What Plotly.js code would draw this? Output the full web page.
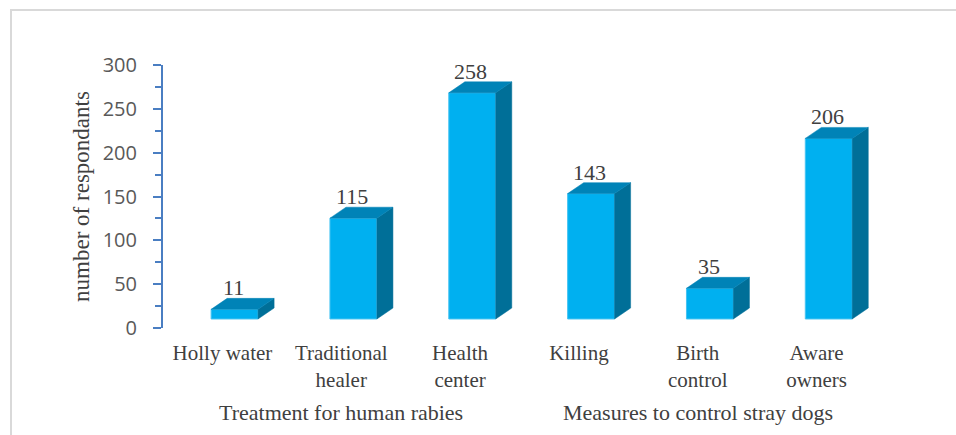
<!DOCTYPE html>
<html>
<head>
<meta charset="utf-8">
<script src="https://cdn.plot.ly/plotly-3.0.1.min.js"></script>
<style>
  html, body { margin: 0; padding: 0; background: #ffffff; }
  #chart { width: 956px; height: 435px; }
</style>
</head>
<body>
<div id="chart"></div>
<script>
// ---- data ----
const categories = ['Holly water', 'Traditional<br>healer', 'Health<br>center', 'Killing', 'Birth<br>control', 'Aware<br>owners'];
const values = [11, 115, 258, 143, 35, 206];
const groups = ['Treatment for human rabies', 'Measures to control stray dogs'];
const groupSizes = [3, 3];
const yTitle = 'number of respondants';

// ---- style constants ----
const barOffset = -0.095, barWidth = 0.395;   // front face, in category units
const depthX = 0.135, depthY = 12.5;          // 3D depth (x units, y units)
const floorShift = 10.3;                      // front face floor raised above axis zero
const cFront = '#00B0F0', cTop = '#0083B7', cSide = '#006F98';
const serif = 'Liberation Serif, Times New Roman, serif';

const xs = categories.map((_, i) => i);

// invisible trace so the visible value axis (y) gets its subplot
const axisHolder = {
  type: 'scatter', mode: 'markers', x: [xs[0]], y: [0], yaxis: 'y',
  marker: { opacity: 0 }, hoverinfo: 'skip', showlegend: false
};

// front faces
const front = {
  type: 'bar', x: xs, y: values, yaxis: 'y2',
  offset: barOffset, width: barWidth,
  marker: { color: cFront, line: { color: '#45C3F2', width: 1 } },
  hoverinfo: 'skip', showlegend: false
};

// top & side faces computed from the values
const topX = [], topY = [], sideX = [], sideY = [];
values.forEach((v, i) => {
  const x0 = i + barOffset, x1 = x0 + barWidth;
  topX.push(x0, x1, x1 + depthX, x0 + depthX, x0, null);
  topY.push(v, v, v + depthY, v + depthY, v, null);
  sideX.push(x1, x1 + depthX, x1 + depthX, x1, x1, null);
  sideY.push(0, depthY, v + depthY, v, 0, null);
});
const topFace = {
  type: 'scatter', mode: 'lines', x: topX, y: topY, yaxis: 'y2',
  fill: 'toself', fillcolor: cTop, line: { color: cTop, width: 0.5 },
  hoverinfo: 'skip', showlegend: false
};
const sideFace = {
  type: 'scatter', mode: 'lines', x: sideX, y: sideY, yaxis: 'y2',
  fill: 'toself', fillcolor: cSide, line: { color: cSide, width: 0.5 },
  hoverinfo: 'skip', showlegend: false
};

// annotations: value labels + group labels
const annotations = values.map((v, i) => ({
  x: i + barOffset + barWidth / 2 - 0.012, y: v + depthY, xref: 'x', yref: 'y2',
  text: String(v), showarrow: false, yanchor: 'bottom', xanchor: 'center', yshift: -4,
  font: { family: serif, size: 22, color: '#404040' }
}));
let start = 0;
groups.forEach((g, k) => {
  const center = start + (groupSizes[k] - 1) / 2;
  annotations.push({
    x: center, xref: 'x', y: -0.376, yref: 'paper',
    text: g, showarrow: false, yanchor: 'bottom', xanchor: 'center',
    font: { family: serif, size: 22, color: '#404040' }
  });
  start += groupSizes[k];
});

const layout = {
  width: 956, height: 435,
  margin: { l: 163, r: 80, t: 65, b: 107 },
  paper_bgcolor: '#ffffff', plot_bgcolor: 'rgba(0,0,0,0)',
  showlegend: false,
  xaxis: {
    type: 'linear', range: [-0.5, 5.5], tickvals: xs, ticktext: categories,
    showgrid: false, zeroline: false, showline: false, ticks: '',
    ticklabelstandoff: 10,
    tickfont: { family: serif, size: 21, color: '#404040' }, fixedrange: true
  },
  yaxis: {
    range: [0, 300], dtick: 50, tick0: 0,
    showgrid: false, zeroline: false,
    showline: true, linecolor: '#4A7EC2', linewidth: 2,
    ticks: 'outside', ticklen: 8, tickwidth: 2, tickcolor: '#4A7EC2',
    minor: { dtick: 25, ticks: 'outside', ticklen: 6, tickwidth: 2, tickcolor: '#4A7EC2', showgrid: false },
    ticklabelstandoff: 12,
    tickfont: { family: 'Open Sans, sans-serif', size: 20, color: '#595959' },
    title: { text: yTitle, standoff: 7, font: { family: serif, size: 23, color: '#404040' } },
    fixedrange: true
  },
  yaxis2: {
    overlaying: 'y', range: [-floorShift, 300 - floorShift], visible: false, fixedrange: true
  },
  annotations: annotations,
  shapes: [{
    type: 'rect', xref: 'paper', yref: 'paper',
    x0: -0.2132, x1: 1.2, y0: -0.5, y1: 1.209,
    line: { color: '#D9D9D9', width: 2 }, fillcolor: 'rgba(0,0,0,0)', layer: 'below'
  }]
};

Plotly.newPlot('chart', [axisHolder, front, sideFace, topFace], layout, { displayModeBar: false, staticPlot: true });
</script>
</body>
</html>
